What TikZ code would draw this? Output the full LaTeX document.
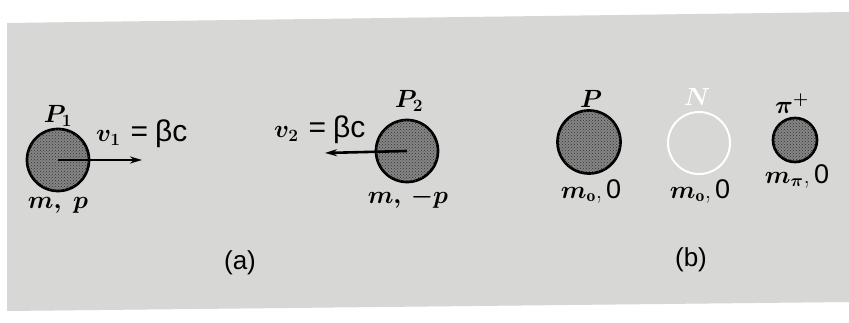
\documentclass[tikz,border=0pt]{standalone}
\usepackage{fontspec}
\setsansfont{Liberation Sans}
\usetikzlibrary{arrows.meta,patterns}
\definecolor{paper}{HTML}{D7D7D5}
\definecolor{ballfill}{HTML}{858585}
\begin{document}
\begin{tikzpicture}[x=1pt,y=-1pt,
  ball/.style={circle, draw=black, line width=2.7pt, fill=ballfill, inner sep=0pt,
    postaction={pattern=crosshatch dots, pattern color=black!80}},
  hollow/.style={circle, draw=white, line width=2pt, inner sep=0pt},
  arr/.style={line width=2.6pt, -{Stealth[length=12pt,width=7pt]}},
  lab/.style={inner sep=0pt, font=\fontsize{23}{27}\selectfont\boldmath},
  bigl/.style={inner sep=0pt, font=\fontsize{25}{30}\selectfont\boldmath},
  partlab/.style={inner sep=0pt, font=\sffamily\fontsize{26}{30}\selectfont}]
\useasboundingbox (0,0) rectangle (849,323);
\fill[white] (0,0) rectangle (849,323);
\fill[paper] (7,23) -- (849,12) -- (849,302) -- (7,311) -- cycle;
% (a)
\node[ball, minimum size=62pt] (p1) at (58,160) {};
\node[lab] (p1l) at (58,116) {$P_1$};
\coordinate (v1end) at (142,160);
\draw[arr] (p1.center) -- (v1end);
\node[lab, anchor=west] (v1l) at (96,134) {$v_1$\hspace{10pt}{\sffamily\fontsize{30}{34}\selectfont =\hspace{7pt}βc}};
\node[lab] (p1m) at (58,205) {$m,\ p$};
\node[ball, minimum size=62pt] (p2) at (407,151) {};
\node[lab] (p2l) at (409,101) {$P_2$};
\coordinate (v2end) at (325,153);
\draw[arr] (p2.center) -- (v2end);
\node[lab, anchor=west] (v2l) at (274,130) {$v_2$\hspace{10pt}{\sffamily\fontsize{30}{34}\selectfont =\hspace{7pt}βc}};
\node[lab] (p2m) at (408,198) {$m,\,-p$};
\node[partlab] (la) at (240,263) {(a)};
% (b)
\node[ball, minimum size=63pt] (pp) at (589,142) {};
\node[bigl] (ppl) at (591,99) {$P$};
\node[hollow, minimum size=62pt] (nn) at (699,143) {};
\node[bigl, text=white] (nnl) at (697,97) {$N$};
\node[ball, minimum size=44pt] (pion) at (795,140) {};
\node[lab] (pionl) at (792,104) {$\pi^{+}$};
\node[bigl] (ppm) at (591,191) {$m_{\mathrm{o}}$,\,{\sffamily\fontsize{27}{31}\selectfont 0}};
\node[bigl] (nnm) at (700,191) {$m_{\mathrm{o}}$,\,{\sffamily\fontsize{27}{31}\selectfont 0}};
\node[bigl] (pim) at (797,176) {$m_{\pi}$,\,{\sffamily\fontsize{27}{31}\selectfont 0}};
\node[partlab] (lb) at (691,260) {(b)};
\end{tikzpicture}
\end{document}
